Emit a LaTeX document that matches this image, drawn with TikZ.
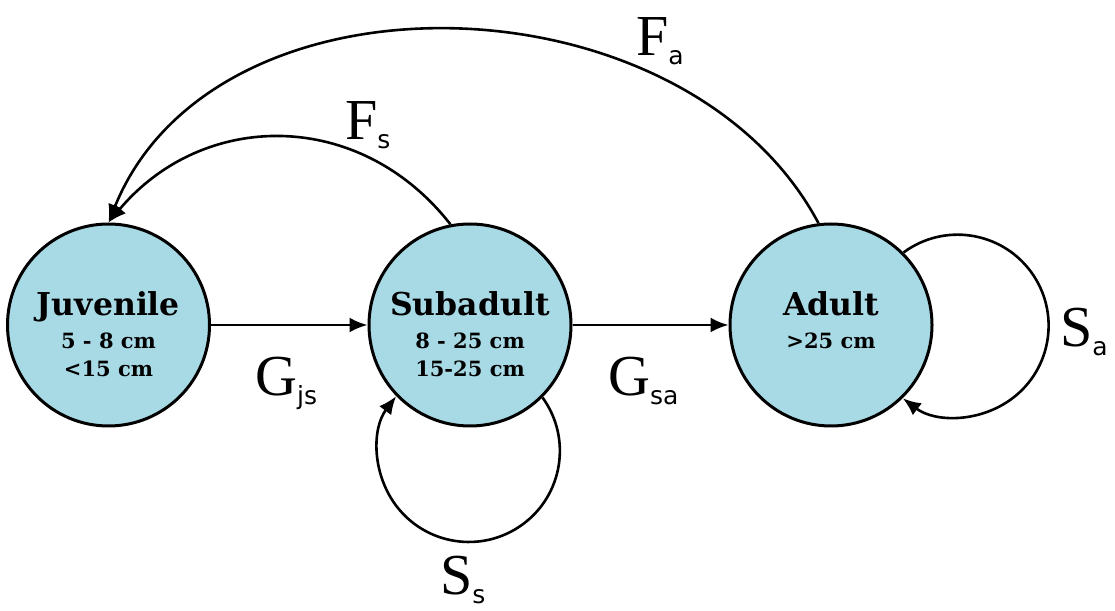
\documentclass[tikz,border=0pt]{standalone}
\usepackage{fontspec}
\setmainfont{DejaVu Serif}
\setsansfont{DejaVu Sans}
\newfontfamily\lblserif{Liberation Serif}
\usetikzlibrary{arrows.meta}
\definecolor{stagefill}{RGB}{168,218,230}
\tikzset{
  stage/.style={circle, draw=black, line width=3pt, fill=stagefill, minimum size=202pt, inner sep=0pt},
  ttl/.style={font=\bfseries\fontsize{31.5}{31.5}\selectfont, anchor=base, inner sep=0pt},
  sz/.style={font=\bfseries\fontsize{21}{21}\selectfont, anchor=base, inner sep=0pt},
  lbl/.style={font=\lblserif\fontsize{58}{58}\selectfont, anchor=base west, inner sep=0pt},
  flow/.style={line width=2.6pt, -{Latex[length=18pt,width=15pt]}},
}
\newcommand{\sbs}[1]{\raisebox{-9pt}{\fontsize{25}{25}\selectfont\sffamily #1}}
\begin{document}
\begin{tikzpicture}[x=1pt,y=1pt]
\useasboundingbox (0,0) rectangle (1115,610);
% stages
\node[stage] (juv) at (108.5,285) {};
\node[stage] (sub) at (470,285) {};
\node[stage] (adu) at (831,285) {};
% stage texts
\node[ttl] (juvT) at ([yshift=9pt]juv.center) {Juvenile};
\node[sz]  (juvA) at ([yshift=-24pt]juv.center) {5 - 8 cm};
\node[sz]  (juvB) at ([yshift=-52pt]juv.center) {<15 cm};
\node[ttl] (subT) at ([yshift=9pt]sub.center) {Subadult};
\node[sz]  (subA) at ([yshift=-24pt]sub.center) {8 - 25 cm};
\node[sz]  (subB) at ([yshift=-52pt]sub.center) {15-25 cm};
\node[ttl] (aduT) at ([yshift=9pt]adu.center) {Adult};
\node[sz]  (aduA) at ([yshift=-24pt]adu.center) {>25 cm};
% transitions
\draw[flow] (juv.east) -- (sub.west);
\draw[flow] (sub.east) -- (adu.west);
\draw[flow, looseness=1.1] (sub.101) to[out=128,in=50] (juv.90);
\draw[flow, looseness=1.025] (adu.97) to[out=118,in=68] (juv.90);
\draw[flow] (sub.-45) arc[start angle=36, end angle=-217, radius=91];
\draw[flow] (adu.45) arc[start angle=126.5, end angle=-127, radius=91];
% labels
\node[lbl] (lGjs) at (255,214) {G\sbs{js}};
\node[lbl] (lGsa) at (608,214) {G\sbs{sa}};
\node[lbl] (lFs) at (345,470) {F\sbs{s}};
\node[lbl] (lFa) at (636,554) {F\sbs{a}};
\node[lbl] (lSa) at (1060,263) {S\sbs{a}};
\node[lbl] (lSs) at (440,16) {S\sbs{s}};
\end{tikzpicture}
\end{document}
